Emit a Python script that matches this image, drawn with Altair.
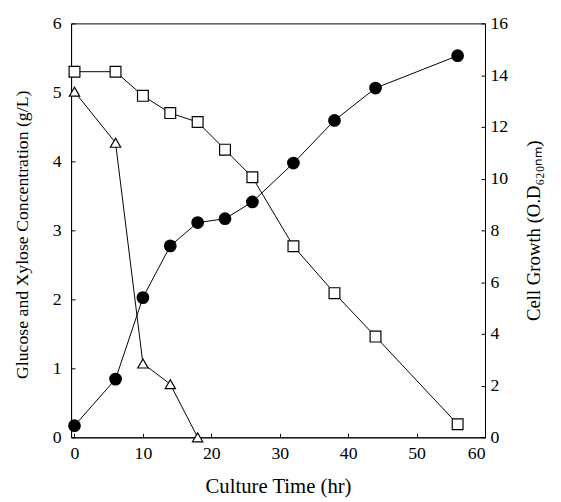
import altair as alt
import pandas as pd

# --- data ---
time_xylose = [0, 6, 10, 14, 18, 22, 26, 32, 38, 44, 56]
xylose = [5.3, 5.3, 4.95, 4.7, 4.57, 4.17, 3.77, 2.77, 2.09, 1.46, 0.19]

time_glucose = [0, 6, 10, 14, 18]
glucose = [5.01, 4.27, 1.07, 0.77, 0.0]

time_cell = [0, 6, 10, 14, 18, 22, 26, 32, 38, 44, 56]
cell_od = [0.45, 2.25, 5.4, 7.4, 8.3, 8.45, 9.1, 10.6, 12.25, 13.5, 14.75]

x_ticks = [0, 10, 20, 30, 40, 50, 60]
left_ticks = [0, 1, 2, 3, 4, 5, 6]
right_ticks = [0, 2, 4, 6, 8, 10, 12, 14, 16]

df_xyl = pd.DataFrame({"t": time_xylose, "conc": xylose})
df_glc = pd.DataFrame({"t": time_glucose, "conc": glucose})
df_cell = pd.DataFrame({"t": time_cell, "od": cell_od})

FONT = "Liberation Serif"
INWARD = {"expr": "-4"}
common = dict(
    grid=False, tickSize=INWARD, labelFontSize=18, titleFontWeight="normal",
    domainColor="black", tickColor="black", labelColor="black", titleColor="black",
)

x_enc = alt.X(
    "t:Q",
    scale=alt.Scale(domain=[-0.5, 60], nice=False, zero=False),
    axis=alt.Axis(
        values=x_ticks, title="Culture Time (hr)",
        labelPadding=11, titlePadding=14, titleFontSize=21, **common,
    ),
)

left_y = alt.Y(
    "conc:Q",
    scale=alt.Scale(domain=[0, 6], nice=False),
    axis=alt.Axis(
        values=left_ticks, title="Glucose and Xylose Concentration (g/L)",
        labelPadding=14, titleFontSize=18, titleAngle=270,
        titleX=-49, titleY=214, titleAlign="center", titleBaseline="middle",
        **common,
    ),
)

right_y = alt.Y(
    "od:Q",
    scale=alt.Scale(domain=[0, 16], nice=False),
    axis=alt.Axis(
        orient="right", values=right_ticks, title="Cell Growth (O.D₆₂₀ₙₘ)",
        labelPadding=9, titlePadding=17, titleAngle=270, titleBaseline="top",
        titleFontSize=19, **common,
    ),
)

line_kw = dict(color="black", strokeWidth=1)

xyl_line = alt.Chart(df_xyl).mark_line(**line_kw).encode(x=x_enc, y=left_y)
xyl_pts = alt.Chart(df_xyl).mark_point(
    shape="square", filled=True, fill="white", stroke="black", strokeWidth=1.2, size=120, opacity=1
).encode(x=x_enc, y=left_y)

glc_line = alt.Chart(df_glc).mark_line(**line_kw).encode(x=x_enc, y=left_y)
glc_pts = alt.Chart(df_glc).mark_point(
    shape="triangle-up", filled=True, fill="white", stroke="black", strokeWidth=1.2, size=110, opacity=1
).encode(x=x_enc, y=left_y)

cell_line = alt.Chart(df_cell).mark_line(**line_kw).encode(x=x_enc, y=right_y)
cell_pts = alt.Chart(df_cell).mark_point(
    shape="circle", filled=True, fill="black", stroke="black", size=120, opacity=1
).encode(x=x_enc, y=right_y)

left = alt.layer(xyl_line, glc_line, xyl_pts, glc_pts)
right = alt.layer(cell_line, cell_pts)

chart = (
    alt.layer(left, right)
    .resolve_scale(y="independent")
    .properties(
        width=420, height=420,
        autosize=alt.AutoSizeParams(type="none"),
        padding={"left": 64, "top": 12, "right": 69, "bottom": 62},
        background="white",
    )
    .configure(font=FONT)
    .configure_view(stroke="black", strokeWidth=1)
)

chart.save("out.html", embed_options={"renderer": "svg", "actions": False})
